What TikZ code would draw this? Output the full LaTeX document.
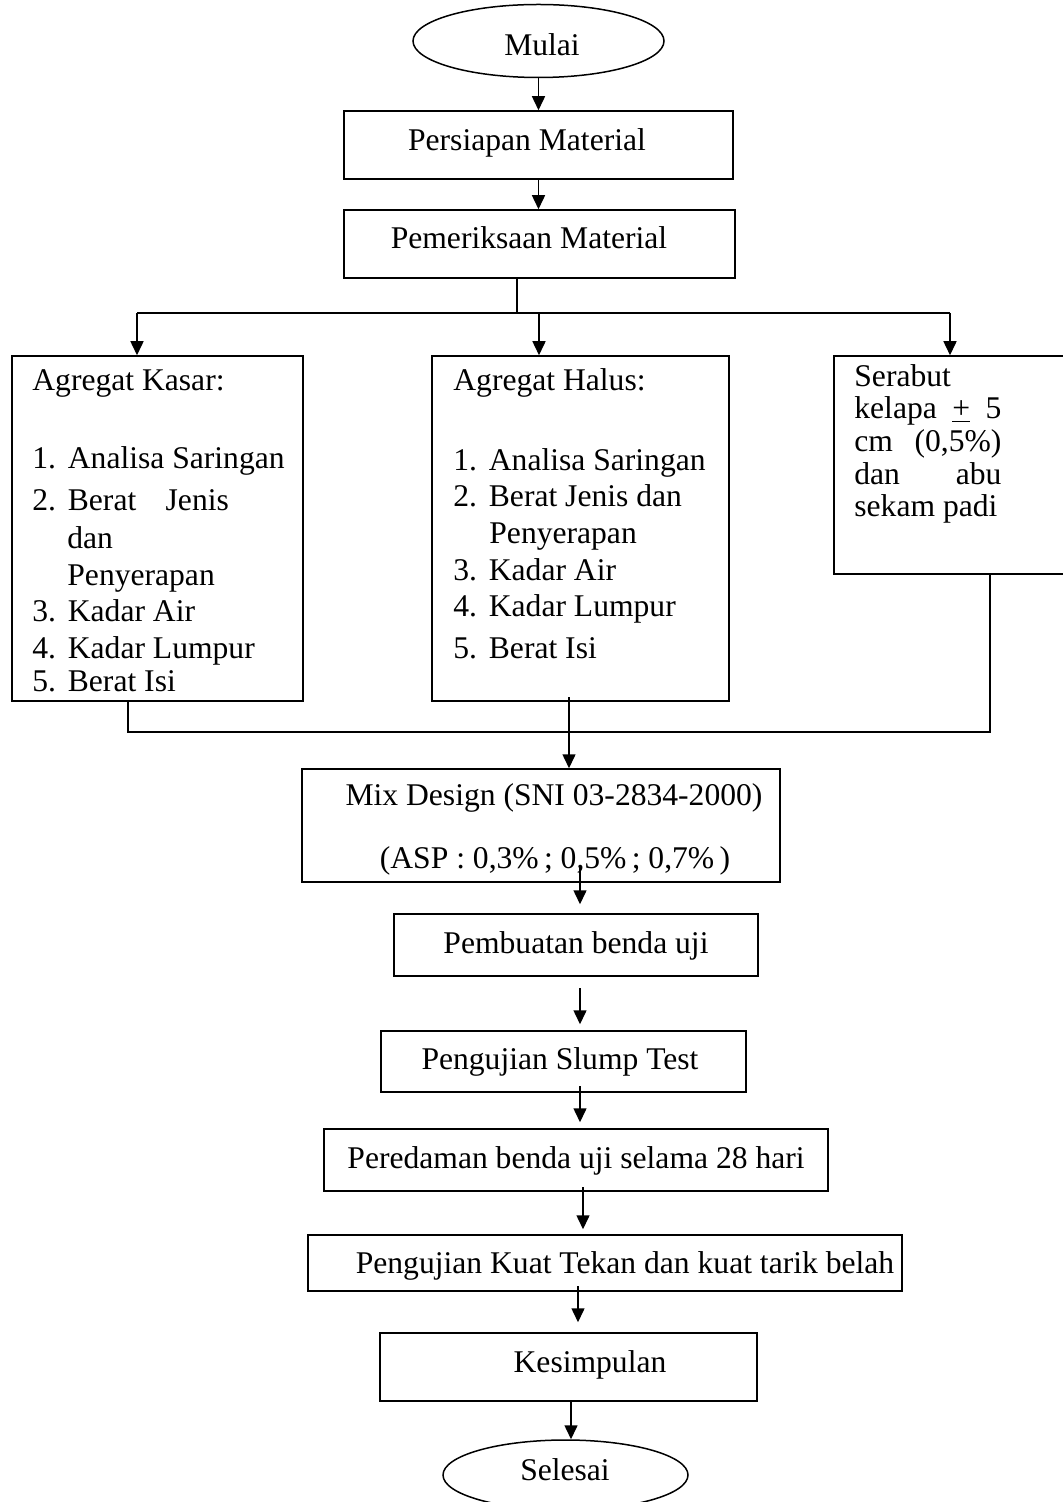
\documentclass[tikz,border=0pt]{standalone}
\usepackage{fontspec}
\setmainfont{Liberation Serif}
\usetikzlibrary{arrows.meta,shapes.geometric}
\newcommand\myfs{\fontsize{15.8}{18}\selectfont}
\newcommand\numb[1]{\makebox[17.75pt][l]{#1}}
\begin{document}
\begin{tikzpicture}[x=0.5pt,y=-0.5pt,
  box/.style={draw, line width=0.75pt, inner sep=0pt},
  term/.style={draw, ellipse, line width=0.75pt, inner sep=0pt},
  txt/.style={inner sep=0pt, font=\myfs, text height=0.95em, text depth=0.07em},
  ltxt/.style={txt, anchor=west},
  ln/.style={line width=0.75pt},
  arr/.style={line width=0.75pt, -{Triangle[length=7pt,width=6.5pt]}}]
\useasboundingbox (0,0) rectangle (1063,1502);

% terminals and single boxes
\node[term, minimum width=125.5pt, minimum height=36.5pt] (mulai) at (538.5,41) {};
\node[txt] (mulaiT) at (542,47) {Mulai};
\node[box, minimum width=194.5pt, minimum height=34pt] (persiapan) at (538.5,145) {};
\node[txt] (persiapanT) at (527,142) {Persiapan Material};
\node[box, minimum width=195.5pt, minimum height=34pt] (periksa) at (539.5,244) {};
\node[txt] (periksaT) at (529,240) {Pemeriksaan Material};

% three test boxes
\node[box, minimum width=145.5pt, minimum height=172.5pt] (kasar) at (157.5,528.5) {};
\node[box, minimum width=148.5pt, minimum height=172.5pt] (halus) at (580.5,528.5) {};
\node[box, minimum width=119pt, minimum height=109pt] (serabut) at (953,465) {};

\node[ltxt] (k0) at (32,382) {Agregat Kasar:};
\node[ltxt] (k1) at (32,460) {\numb{1.}Analisa Saringan};
\node[ltxt] (k2) at (32,502) {\numb{2.}\makebox[80.5pt][s]{Berat Jenis}};
\node[ltxt] (k3) at (67,540) {dan};
\node[ltxt] (k4) at (67,577) {Penyerapan};
\node[ltxt] (k5) at (32,613) {\numb{3.}Kadar Air};
\node[ltxt] (k6) at (32,650) {\numb{4.}Kadar Lumpur};
\node[ltxt] (k7) at (32,683) {\numb{5.}Berat Isi};

\node[ltxt] (h0) at (453,382) {Agregat Halus:};
\node[ltxt] (h1) at (453,462) {\numb{1.}Analisa Saringan};
\node[ltxt] (h2) at (453,498) {\numb{2.}Berat Jenis dan};
\node[ltxt] (h3) at (489,535) {Penyerapan};
\node[ltxt] (h4) at (453,572) {\numb{3.}Kadar Air};
\node[ltxt] (h5) at (453,608) {\numb{4.}Kadar Lumpur};
\node[ltxt] (h6) at (453,650) {\numb{5.}Berat Isi};

\node[ltxt] (s1) at (854,378) {Serabut};
\node[ltxt] (s2) at (854,410) {\makebox[73.5pt][s]{kelapa \underline{+} 5}};
\node[ltxt] (s3) at (854,443) {\makebox[73.5pt][s]{cm (0,5\%)}};
\node[ltxt] (s4) at (854,476) {\makebox[73.5pt][s]{dan abu}};
\node[ltxt] (s5) at (854,508) {sekam padi};

% lower chain
\node[box, minimum width=239pt, minimum height=56.5pt] (mix) at (541,825.5) {};
\node[txt] (mixT1) at (554,797) {Mix Design (SNI 03-2834-2000)};
\node[txt] (mixT2) at (555,860) {(ASP : 0,3\%\,; 0,5\%\,; 0,7\%\,)};
\node[box, minimum width=182pt, minimum height=31pt] (buat) at (576,945) {};
\node[txt] (buatT) at (576,945) {Pembuatan benda uji};
\node[box, minimum width=182.5pt, minimum height=30.5pt] (slump) at (563.5,1061.5) {};
\node[txt] (slumpT) at (560,1061) {Pengujian Slump Test};
\node[box, minimum width=252pt, minimum height=31pt] (redam) at (576,1160) {};
\node[txt] (redamT) at (576,1160) {Peredaman benda uji selama 28 hari};
\node[box, minimum width=297pt, minimum height=28pt] (kuat) at (605,1263) {};
\node[txt] (kuatT) at (625,1265) {Pengujian Kuat Tekan dan kuat tarik belah};
\node[box, minimum width=188.5pt, minimum height=34pt] (simpul) at (568.5,1367) {};
\node[txt] (simpulT) at (590,1364) {Kesimpulan};
\node[term, minimum width=122.5pt, minimum height=35pt] (selesai) at (565.5,1475) {};
\node[txt] (selesaiT) at (565,1472) {Selesai};

% connectors
\draw[arr] (mulai.south) -- (mulai.south |- persiapan.north);
\draw[arr] (persiapan.south) -- (persiapan.south |- periksa.north);

\coordinate (split) at (517,313);
\coordinate (bl) at (137,313);
\coordinate (bm) at (539,313);
\coordinate (br) at (950,313);
\draw[ln] (periksa.south -| split) -- (split);
\draw[ln] (bl) -- (br);
\draw[arr] (bl) -- (bl |- kasar.north);
\draw[arr] (bm) -- (bm |- halus.north);
\draw[arr] (br) -- (br |- serabut.north);

\coordinate (jl) at (128,732);
\coordinate (jr) at (990,732);
\draw[ln] (jl |- kasar.south) -- (jl) -- (jr) -- (jr |- serabut.south);
\coordinate (jm) at (569,697);
\draw[arr] (jm) -- (jm |- mix.north);

\coordinate (m2) at (580,867);
\draw[arr, shorten >=4.5pt] (m2) -- (m2 |- buat.north);
\coordinate (b2) at (580,988);
\draw[arr, shorten >=3pt] (b2) -- (b2 |- slump.north);
\coordinate (sl2) at (580,1086);
\draw[arr, shorten >=3pt] (sl2) -- (sl2 |- redam.north);
\coordinate (r2) at (583,1187);
\draw[arr, shorten >=2.5pt] (r2) -- (r2 |- kuat.north);
\coordinate (ku2) at (578,1286);
\draw[arr, shorten >=5pt] (ku2) -- (ku2 |- simpul.north);
\coordinate (si2) at (571,1401);
\draw[arr] (si2) -- (si2 |- selesai.north);
\end{tikzpicture}
\end{document}
